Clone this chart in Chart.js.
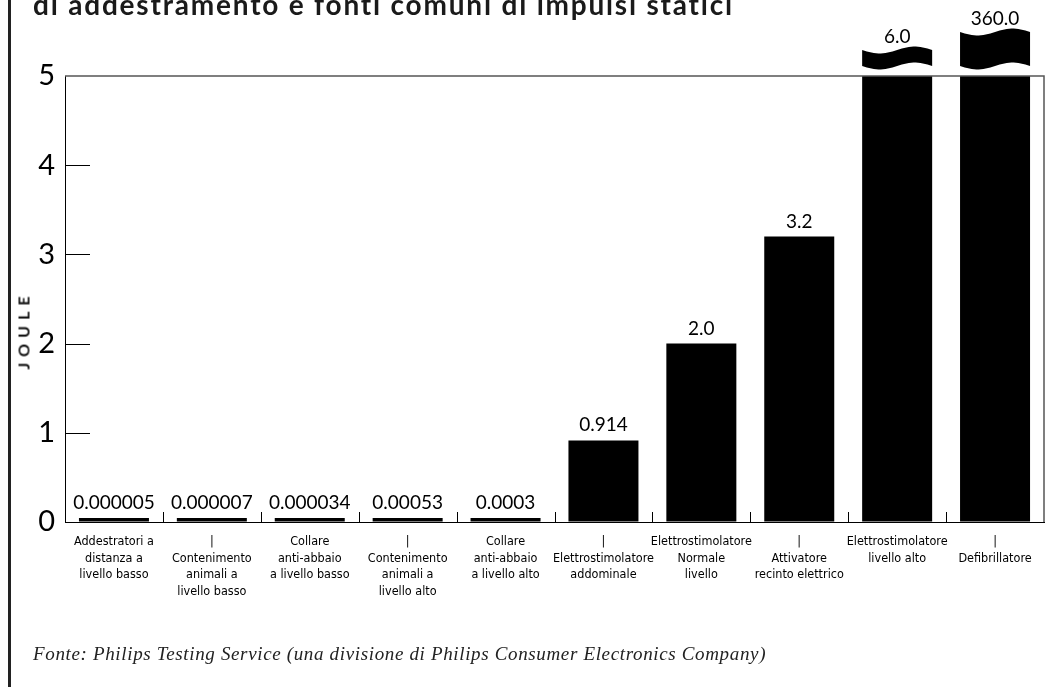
<!DOCTYPE html>
<html lang="it">
<head>
<meta charset="utf-8">
<title>Energia in joule</title>
<script src="https://cdn.jsdelivr.net/npm/chart.js@4.4.1/dist/chart.umd.min.js"></script>
<style>
  html, body { margin: 0; padding: 0; background: #fff; }
  body { width: 1060px; height: 687px; position: relative; overflow: hidden; }
  canvas { position: absolute; left: 0; top: 0; }
  #edge { position: absolute; left: 8px; top: 0; width: 3px; height: 687px; background: #222; }
  #title { position: absolute; left: 33px; top: -9px; font: bold 28px Lato, sans-serif; letter-spacing: 1.8px; line-height: 27px; color: #1a1a1a; white-space: nowrap; }
  #ytitle { position: absolute; left: 23px; top: 330px; transform: translate(-50%, -50%) rotate(-90deg); font: bold 16px Lato, sans-serif; letter-spacing: 6px; color: #111; white-space: nowrap; }
  #source { position: absolute; left: 33px; top: 643px; font: italic 19px "Liberation Serif", serif; letter-spacing: 0.65px; color: #222; white-space: nowrap; }
</style>
</head>
<body>
<canvas id="chart" width="1060" height="687"></canvas>
<div id="edge"></div>
<div id="title">di addestramento e fonti comuni di impulsi statici</div>
<div id="ytitle">JOULE</div>
<div id="source">Fonte: Philips Testing Service (una divisione di Philips Consumer Electronics Company)</div>
<script>
// dati
const categories = [
  ['Addestratori a', 'distanza a', 'livello basso'],
  ['|', 'Contenimento', 'animali a', 'livello basso'],
  ['Collare', 'anti-abbaio', 'a livello basso'],
  ['|', 'Contenimento', 'animali a', 'livello alto'],
  ['Collare', 'anti-abbaio', 'a livello alto'],
  ['|', 'Elettrostimolatore', 'addominale'],
  ['Elettrostimolatore', 'Normale', 'livello'],
  ['|', 'Attivatore', 'recinto elettrico'],
  ['Elettrostimolatore', 'livello alto'],
  ['|', 'Defibrillatore'],
];
const joules = [0.000005, 0.000007, 0.000034, 0.00053, 0.0003, 0.914, 2.0, 3.2, 6.0, 360.0];
const valueText = ['0.000005', '0.000007', '0.000034', '0.00053', '0.0003', '0.914', '2.0', '3.2', '6.0', '360.0'];
const yMax = 5;

// interruzioni sopra le barre fuori scala: altezza del blocco ondulato
const capHeight = { 8: 16, 9: 34 };
const capGap = 10;
const waveAmp = 3.5;

const labelFont = '"Liberation Sans Narrow", "DejaVu Sans Condensed", sans-serif';

function wavePath(ctx, x0, x1, y, forward) {
  const n = 30;
  for (let i = 0; i <= n; i++) {
    const t = forward ? i / n : 1 - i / n;
    ctx.lineTo(x0 + (x1 - x0) * t, y + waveAmp * Math.sin(2 * Math.PI * t));
  }
}

const decorations = {
  id: 'decorations',
  afterDatasetsDraw(chart) {
    const { ctx, chartArea: a } = chart;
    const x = chart.scales.x, y = chart.scales.y;
    ctx.save();

    // riquadro superiore e destro
    ctx.strokeStyle = '#555';
    ctx.lineWidth = 1.5;
    ctx.beginPath();
    ctx.moveTo(a.left, a.top);
    ctx.lineTo(a.right, a.top);
    ctx.lineTo(a.right, a.bottom);
    ctx.stroke();

    // tacche interne asse y
    ctx.strokeStyle = '#000';
    ctx.lineWidth = 1;
    y.ticks.forEach(t => {
      if (t.value <= 0 || t.value >= yMax) return;
      const py = Math.round(y.getPixelForValue(t.value)) + 0.5;
      ctx.beginPath();
      ctx.moveTo(a.left, py);
      ctx.lineTo(a.left + 25, py);
      ctx.stroke();
    });

    // tacche tra le categorie
    for (let i = 1; i < categories.length; i++) {
      const px = Math.round((x.getPixelForValue(i - 1) + x.getPixelForValue(i)) / 2) + 0.5;
      ctx.beginPath();
      ctx.moveTo(px, a.bottom);
      ctx.lineTo(px, a.bottom - 10);
      ctx.stroke();
    }

    // valori e interruzioni
    const bars = chart.getDatasetMeta(0).data;
    ctx.fillStyle = '#000';
    ctx.font = '19px Lato, sans-serif';
    ctx.textAlign = 'center';
    ctx.textBaseline = 'alphabetic';
    bars.forEach((bar, i) => {
      const half = bar.width / 2;
      if (joules[i] > yMax) {
        const bottom = a.top - capGap;
        const top = bottom - capHeight[i];
        ctx.beginPath();
        ctx.moveTo(bar.x - half, top);
        wavePath(ctx, bar.x - half, bar.x + half, top, true);
        wavePath(ctx, bar.x - half, bar.x + half, bottom, false);
        ctx.closePath();
        ctx.fill();
        ctx.fillText(valueText[i], bar.x, top - 7);
      } else {
        ctx.fillText(valueText[i], bar.x, bar.y - 9);
      }
    });
    ctx.restore();
  }
};

new Chart(document.getElementById('chart'), {
  type: 'bar',
  data: {
    labels: categories,
    datasets: [{
      data: joules,
      backgroundColor: '#000',
      borderWidth: 0,
      barPercentage: 0.715,
      categoryPercentage: 1,
      minBarLength: 4,
      clip: 0,
    }],
  },
  options: {
    responsive: false,
    animation: false,
    events: [],
    layout: { padding: { top: 76, right: 16, left: 0, bottom: 0 } },
    plugins: { legend: { display: false }, tooltip: { enabled: false } },
    scales: {
      x: {
        grid: { display: true, drawOnChartArea: false, drawTicks: false },
        border: { display: true, color: '#000', width: 1 },
        ticks: {
          color: '#000',
          font: { family: labelFont, size: 12.5, lineHeight: 1.35 },
          padding: 11,
          autoSkip: false,
          maxRotation: 0,
        },
        afterFit: s => { s.height = 165; },
      },
      y: {
        min: 0,
        max: yMax,
        grid: { display: true, drawOnChartArea: false, drawTicks: false },
        border: { display: true, color: '#000', width: 1 },
        ticks: {
          stepSize: 1,
          color: '#000',
          font: { family: 'Lato, sans-serif', size: 29 },
          padding: 10,
        },
        afterFit: s => { s.width = 65; },
      },
    },
  },
  plugins: [decorations],
});
</script>
</body>
</html>
